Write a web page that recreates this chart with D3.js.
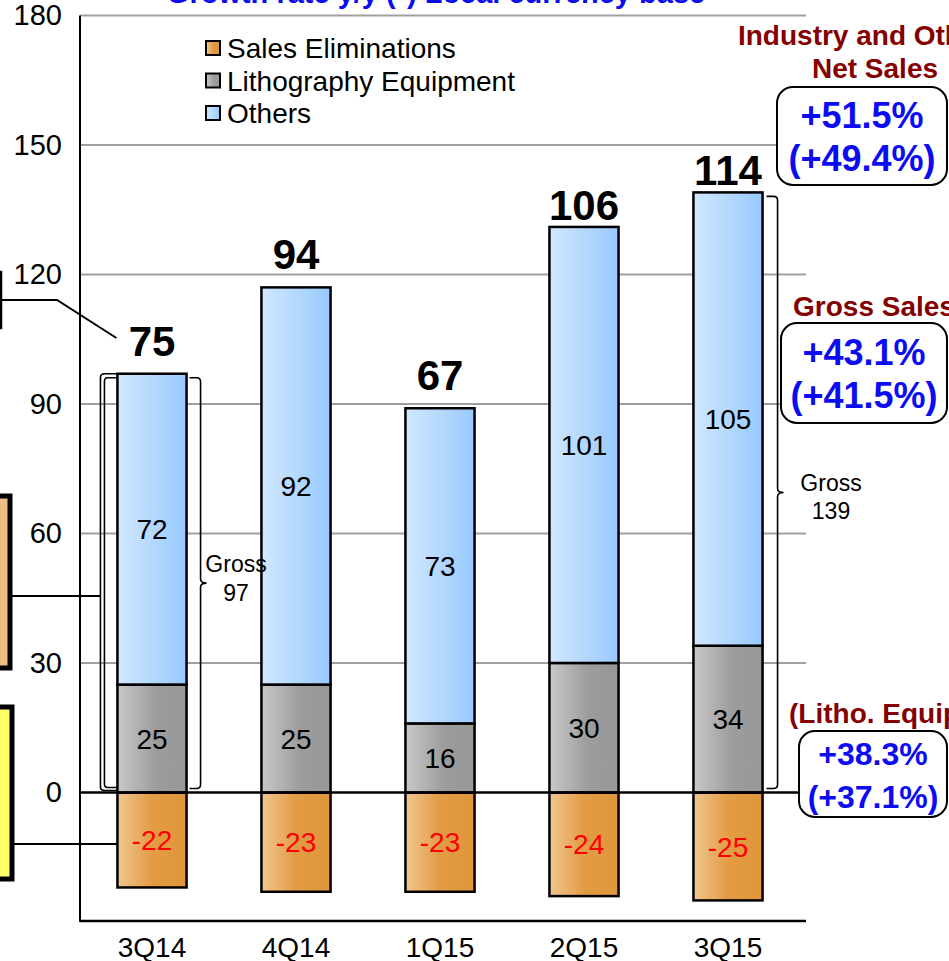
<!DOCTYPE html>
<html>
<head>
<meta charset="utf-8">
<script src="https://cdn.jsdelivr.net/npm/d3@7"></script>
<style>
  html, body { margin: 0; padding: 0; background: #fff; }
  svg { display: block; }
</style>
</head>
<body>
<svg id="chart" width="949" height="961"></svg>
<script>
// ---- data ----
const categories = ["3Q14", "4Q14", "1Q15", "2Q15", "3Q15"];
const salesEliminations = [-22, -23, -23, -24, -25];
const lithography = [25, 25, 16, 30, 34];
const others = [72, 92, 73, 101, 105];
const netSales = [75, 94, 67, 106, 114];
const yTicks = [0, 30, 60, 90, 120, 150, 180];
const seriesNames = ["Sales Eliminations", "Lithography Equipment", "Others"];
const grossPeriods = ["3Q14", "3Q15"];
const chartTitle = "Growth rate y/y (*) Local currency base";
const netTitle = ["Industry and Others", "Net Sales"];
const netGrowth = ["+51.5%", "(+49.4%)"];
const grossTitle = "Gross Sales";
const grossGrowth = ["+43.1%", "(+41.5%)"];
const lithoTitle = "(Litho. Equipment)";
const lithoGrowth = ["+38.3%", "(+37.1%)"];

// ---- setup ----
const FONT = "'Liberation Sans', Arial, Helvetica, sans-serif";
const BLUE = "#0c0cf2", DARKRED = "#850000";
const svg = d3.select("#chart").attr("font-family", FONT);

const x = d3.scaleBand().domain(categories).range([80, 800])
  .paddingInner(0.52).paddingOuter(0.26);
const y = d3.scaleLinear().domain([-30, 180]).range([922, 15.4]);

const defs = svg.append("defs");
function gradient(id, stops) {
  const g = defs.append("linearGradient").attr("id", id)
    .attr("x1", 0).attr("x2", 1).attr("y1", 0).attr("y2", 0);
  stops.forEach(([o, c]) => g.append("stop").attr("offset", o).attr("stop-color", c));
}
gradient("gElim", [[0, "#f1c690"], [0.5, "#e39c44"], [1, "#df963a"]]);
gradient("gLitho", [[0, "#c8c8c8"], [0.55, "#9d9d9d"], [1, "#979797"]]);
gradient("gOther", [[0, "#d2e8ff"], [1, "#97c9fd"]]);
const fills = ["url(#gElim)", "url(#gLitho)", "url(#gOther)"];

// ---- title (runs off the top edge) ----
svg.append("text").attr("x", 436).attr("y", 3)
  .attr("text-anchor", "middle").attr("font-size", 29).attr("font-weight", "bold")
  .attr("fill", BLUE).text(chartTitle);

// ---- gridlines ----
svg.append("g").selectAll("line").data(yTicks.filter(v => v !== 0)).join("line")
  .attr("x1", 80).attr("x2", 806)
  .attr("y1", d => y(d)).attr("y2", d => y(d))
  .attr("stroke", "#a0a0a0").attr("stroke-width", 2);

// ---- axes ----
const yAxis = svg.append("g").attr("transform", "translate(80,0)")
  .call(d3.axisLeft(y).tickValues(yTicks).tickSize(0).tickPadding(18));
yAxis.select(".domain").remove();
yAxis.selectAll("text").attr("font-size", 29).attr("font-family", FONT).attr("fill", "#000");

const xAxis = svg.append("g").attr("transform", "translate(0,922)")
  .call(d3.axisBottom(x).tickSize(0).tickPadding(15));
xAxis.select(".domain").remove();
xAxis.selectAll("text").attr("font-size", 28).attr("font-family", FONT).attr("fill", "#000");

svg.append("line").attr("x1", 80).attr("x2", 80).attr("y1", y(180)).attr("y2", 922)
  .attr("stroke", "#000").attr("stroke-width", 2);
svg.append("line").attr("x1", 80).attr("x2", 806).attr("y1", 921).attr("y2", 921)
  .attr("stroke", "#000").attr("stroke-width", 2.5);

// ---- stacked bars ----
const rows = categories.map((c, i) => ({
  cat: c,
  segs: [
    { k: 0, y0: salesEliminations[i], y1: 0, v: salesEliminations[i] },
    { k: 1, y0: 0, y1: lithography[i], v: lithography[i] },
    { k: 2, y0: lithography[i], y1: lithography[i] + others[i], v: others[i] }
  ],
  gross: lithography[i] + others[i],
  net: netSales[i]
}));

const barG = svg.append("g");
rows.forEach(r => {
  r.segs.forEach(s => {
    barG.append("rect")
      .attr("x", x(r.cat)).attr("width", x.bandwidth())
      .attr("y", y(Math.max(s.y0, s.y1)))
      .attr("height", Math.abs(y(s.y0) - y(s.y1)))
      .attr("fill", fills[s.k]).attr("stroke", "#000").attr("stroke-width", 2.5);
  });
});

// zero line
svg.append("line").attr("x1", 80).attr("x2", 799).attr("y1", y(0)).attr("y2", y(0))
  .attr("stroke", "#000").attr("stroke-width", 2.5);

// segment values
rows.forEach(r => {
  r.segs.forEach(s => {
    barG.append("text")
      .attr("x", x(r.cat) + x.bandwidth() / 2)
      .attr("y", (y(s.y0) + y(s.y1)) / 2)
      .attr("dy", "0.36em").attr("text-anchor", "middle")
      .attr("font-size", 28).attr("fill", s.k === 0 ? "#ff0000" : "#000")
      .text(s.v);
  });
  // net total above the bar
  const lift = r.gross > 125 ? 7 : 18;
  barG.append("text")
    .attr("x", x(r.cat) + x.bandwidth() / 2)
    .attr("y", y(r.gross) - lift)
    .attr("text-anchor", "middle").attr("font-size", 42).attr("font-weight", "bold")
    .attr("fill", "#000").text(r.net);
});

// ---- gross braces ----
const braceLayout = { "3Q14": { gap: 14, tx: 236, dy1: -11, dy2: 18 },
                      "3Q15": { gap: 15, tx: 831, dy1: -1, dy2: 27 } };
grossPeriods.forEach(c => {
  const r = rows.find(d => d.cat === c);
  const L = braceLayout[c];
  const right = x(c) + x.bandwidth();
  const bx = right + L.gap;
  const top = y(r.gross) + 4, bot = y(0) - 4, mid = (top + bot) / 2;
  const p = `M${bx - 11},${top} H${bx - 4} Q${bx},${top} ${bx},${top + 4}
             V${mid - 4} Q${bx},${mid} ${bx + 6},${mid} Q${bx},${mid} ${bx},${mid + 4}
             V${bot - 4} Q${bx},${bot} ${bx - 4},${bot} H${bx - 11}`;
  svg.append("path").attr("d", p).attr("fill", "none")
    .attr("stroke", "#000").attr("stroke-width", 1.6);
  svg.append("text").attr("x", L.tx).attr("y", mid + L.dy1).attr("text-anchor", "middle")
    .attr("font-size", 23).attr("fill", "#000").text("Gross");
  svg.append("text").attr("x", L.tx).attr("y", mid + L.dy2).attr("text-anchor", "middle")
    .attr("font-size", 23).attr("fill", "#000").text(r.gross);
});

// double bracket to the left of the first bar
(function () {
  const r = rows[0];
  const left = x(r.cat);
  const top = y(r.gross), bot = y(0) - 2;
  const p = `M${left},${top} H${left - 13} Q${left - 17},${top} ${left - 17},${top + 4}
             V${bot - 4} Q${left - 17},${bot} ${left - 13},${bot} H${left}
             M${left},${top + 4} H${left - 10} Q${left - 13},${top + 4} ${left - 13},${top + 8}
             V${bot - 7} Q${left - 13},${bot - 3} ${left - 10},${bot - 3} H${left}`;
  svg.append("path").attr("d", p).attr("fill", "none")
    .attr("stroke", "#000").attr("stroke-width", 1.6);
})();

// ---- callouts running off the left edge ----
svg.append("rect").attr("x", -100).attr("y", 272).attr("width", 101).attr("height", 56)
  .attr("fill", "#fff").attr("stroke", "#000").attr("stroke-width", 2.5);
svg.append("path").attr("d", `M1,300 H57 L${x("3Q14") - 1},338`)
  .attr("fill", "none").attr("stroke", "#000").attr("stroke-width", 2);

svg.append("rect").attr("x", -200).attr("y", 496).attr("width", 210).attr("height", 172)
  .attr("fill", "#eebd86").attr("stroke", "#000").attr("stroke-width", 5);
svg.append("line").attr("x1", 12).attr("x2", x("3Q14") - 17).attr("y1", 596).attr("y2", 596)
  .attr("stroke", "#000").attr("stroke-width", 2);

svg.append("rect").attr("x", -200).attr("y", 707).attr("width", 212).attr("height", 172)
  .attr("fill", "#ffff66").attr("stroke", "#000").attr("stroke-width", 5);
svg.append("line").attr("x1", 14).attr("x2", x("3Q14")).attr("y1", 844).attr("y2", 844)
  .attr("stroke", "#000").attr("stroke-width", 2);

// ---- legend ----
const legend = svg.append("g");
seriesNames.forEach((name, i) => {
  const cy = 48 + i * 32.5;
  legend.append("rect").attr("x", 206).attr("y", cy - 7).attr("width", 14).attr("height", 14)
    .attr("fill", fills[i]).attr("stroke", "#000").attr("stroke-width", 2);
  legend.append("text").attr("x", 227).attr("y", cy + 10)
    .attr("font-size", 28).attr("fill", "#000").text(name);
});

// ---- growth-rate callouts on the right ----
function heading(lines, xPos, y0, anchor) {
  lines.forEach((t, i) => svg.append("text").attr("x", xPos).attr("y", y0 + i * 33)
    .attr("text-anchor", anchor).attr("font-size", 28).attr("font-weight", "bold")
    .attr("fill", DARKRED).text(t));
}
function box(bx, by, bw, bh, lines, base, size) {
  svg.append("rect").attr("x", bx).attr("y", by).attr("width", bw).attr("height", bh)
    .attr("rx", 16).attr("fill", "#fff").attr("stroke", "#000").attr("stroke-width", 2);
  lines.forEach((t, i) => svg.append("text").attr("x", bx + bw / 2).attr("y", base + i * 43)
    .attr("text-anchor", "middle").attr("font-size", size).attr("font-weight", "bold")
    .attr("fill", BLUE).text(t));
}
heading([netTitle[0]], 871, 45, "middle");
heading([netTitle[1]], 875, 78, "middle");
box(777, 87, 170, 98, netGrowth, 128, 36);
heading([grossTitle], 874, 316, "middle");
box(781, 323, 166, 100, grossGrowth, 365, 36);
heading([lithoTitle], 789, 723, "start");
box(799, 731, 148, 86, lithoGrowth, 765, 32);
</script>
</body>
</html>
